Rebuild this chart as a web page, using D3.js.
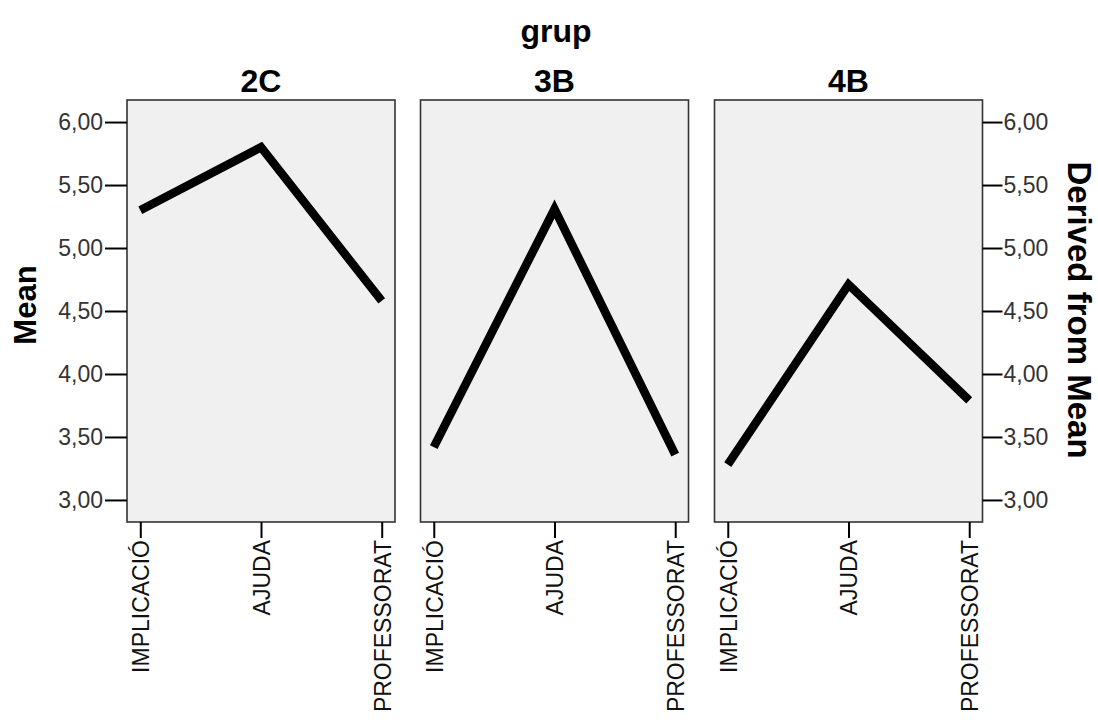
<!DOCTYPE html>
<html>
<head>
<meta charset="utf-8">
<script src="https://cdn.jsdelivr.net/npm/d3@7"></script>
<style>
  html, body { margin: 0; padding: 0; background: #fff; }
  svg { display: block; }
  text { font-family: "Liberation Sans", Arial, sans-serif; }
</style>
</head>
<body>
<svg id="chart" width="1098" height="724"></svg>
<script>
// ---- data ----
const groups = ["2C", "3B", "4B"];
const categories = ["IMPLICACIÓ", "AJUDA", "PROFESSORAT"];
const values2C = [5.30, 5.80, 4.58];
const values3B = [3.42, 5.31, 3.36];
const values4B = [3.28, 4.71, 3.79];
const seriesValues = [values2C, values3B, values4B];
const yTicks = [3.0, 3.5, 4.0, 4.5, 5.0, 5.5, 6.0];
const yDomain = [2.825, 6.175];

// ---- layout ----
const svg = d3.select("#chart");
const panelW = 268, panelTop = 100, panelBottom = 522;
const panelLefts = [127, 420.5, 714.5];

const y = d3.scaleLinear().domain(yDomain).range([panelBottom, panelTop]);
const x = d3.scalePoint().domain(categories).range([0, panelW]).padding(0.11);
const fmt = d => d3.format(".2f")(d).replace(".", ",");

// title
svg.append("text")
  .attr("x", 556).attr("y", 42)
  .attr("text-anchor", "middle")
  .style("font-size", "32px").style("font-weight", "bold")
  .text("grup");

groups.forEach((g, i) => {
  const gx = panelLefts[i];
  const p = svg.append("g").attr("transform", `translate(${gx},0)`);

  p.append("rect")
    .attr("x", 0).attr("y", panelTop)
    .attr("width", panelW).attr("height", panelBottom - panelTop)
    .attr("fill", "#f0f0f0")
    .attr("stroke", "#333").attr("stroke-width", 1.6);

  p.append("text")
    .attr("x", panelW / 2).attr("y", 92)
    .attr("text-anchor", "middle")
    .style("font-size", "32px").style("font-weight", "bold")
    .text(g);

  // line
  const line = d3.line().x(d => x(d.c)).y(d => y(d.v));
  p.append("path")
    .datum(categories.map((c, k) => ({ c, v: seriesValues[i][k] })))
    .attr("d", line)
    .attr("fill", "none")
    .attr("stroke", "#000")
    .attr("stroke-width", 8.5)
    .attr("stroke-linejoin", "miter");

  // x axis
  const xa = p.append("g")
    .attr("transform", `translate(0,${panelBottom})`)
    .call(d3.axisBottom(x).tickSize(16).tickPadding(2));
  xa.select(".domain").remove();
  xa.selectAll(".tick line").attr("stroke", "#000").attr("stroke-width", 2);
  xa.selectAll(".tick text")
    .attr("transform", "rotate(-90)")
    .attr("x", -18).attr("y", 0).attr("dy", "0.36em")
    .attr("text-anchor", "end")
    .style("font-size", "23px").style("font-family", "Liberation Sans, Arial, sans-serif")
    .attr("fill", "#111");
});

// left y axis
const yl = svg.append("g")
  .attr("transform", `translate(${panelLefts[0]},0)`)
  .call(d3.axisLeft(y).tickValues(yTicks).tickFormat(fmt).tickSize(22).tickPadding(2));
yl.select(".domain").remove();
yl.selectAll(".tick line").attr("stroke", "#000").attr("stroke-width", 2);
yl.selectAll(".tick text")
  .style("font-size", "23px").style("font-family", "Liberation Sans, Arial, sans-serif")
  .attr("fill", "#333");

// right y axis
const yr = svg.append("g")
  .attr("transform", `translate(${panelLefts[2] + panelW},0)`)
  .call(d3.axisRight(y).tickValues(yTicks).tickFormat(fmt).tickSize(20).tickPadding(1));
yr.select(".domain").remove();
yr.selectAll(".tick line").attr("stroke", "#000").attr("stroke-width", 2);
yr.selectAll(".tick text")
  .style("font-size", "23px").style("font-family", "Liberation Sans, Arial, sans-serif")
  .attr("fill", "#333");

// axis titles
svg.append("text")
  .attr("transform", "translate(36,305) rotate(-90)")
  .attr("text-anchor", "middle")
  .style("font-size", "31px").style("font-weight", "bold")
  .text("Mean");

svg.append("text")
  .attr("transform", "translate(1068,310) rotate(90)")
  .attr("text-anchor", "middle")
  .style("font-size", "33px").style("font-weight", "bold")
  .text("Derived from Mean");
</script>
</body>
</html>
